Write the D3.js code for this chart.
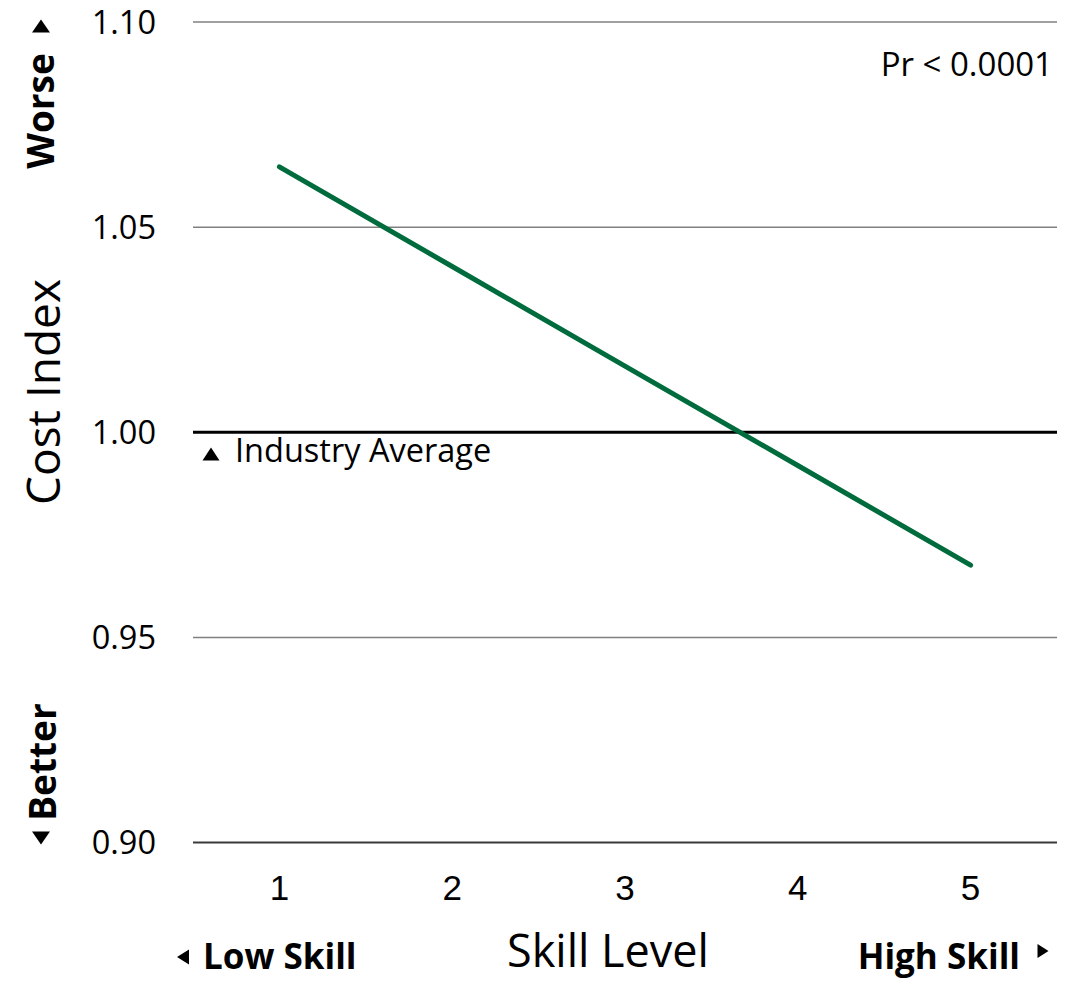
<!DOCTYPE html>
<html lang="en">
<head>
  <meta charset="UTF-8">
  <title>Cost Index by Skill Level</title>
  <script src="https://d3js.org/d3.v7.min.js"></script>
  <style>
    body { margin: 0; background: #fff; }
    svg { font-family: "Open Sans", sans-serif; }
    .grid line { stroke: #808080; stroke-width: 1.5; }
    .tick-y { font-size: 32.5px; fill: #000; }
    .tick-x { font-family: "Liberation Sans", Arial, sans-serif; font-size: 35px; fill: #000; }
  </style>
</head>
<body>
  <svg id="chart" width="1084" height="981"></svg>

  <script>
    // Data
    const skillLevels = ["1", "2", "3", "4", "5"];
    const costIndex = [1.0647, 1.0404, 1.0161, 0.9919, 0.9676];
    const yTicks = [0.90, 0.95, 1.00, 1.05, 1.10];
    const industryAverage = 1.00;

    const svg = d3.select("#chart");
    const plot = { left: 193, right: 1057, top: 22, bottom: 842.5 };

    const x = d3.scaleBand()
      .domain(skillLevels)
      .range([plot.left, plot.right]);

    const y = d3.scaleLinear()
      .domain([0.90, 1.10])
      .range([plot.bottom, plot.top]);

    // gridlines
    svg.append("g").attr("class", "grid")
      .selectAll("line")
      .data(yTicks.filter(t => t !== industryAverage && t !== 0.90))
      .join("line")
      .attr("x1", plot.left).attr("x2", plot.right)
      .attr("y1", d => y(d)).attr("y2", d => y(d));

    // bottom axis line
    svg.append("line")
      .attr("x1", plot.left).attr("x2", plot.right)
      .attr("y1", y(0.90)).attr("y2", y(0.90))
      .attr("stroke", "#3a3a3a").attr("stroke-width", 2);

    // industry average line
    svg.append("line")
      .attr("x1", plot.left).attr("x2", plot.right)
      .attr("y1", y(industryAverage)).attr("y2", y(industryAverage))
      .attr("stroke", "#000").attr("stroke-width", 3);

    // y tick labels
    svg.append("g")
      .selectAll("text")
      .data(yTicks)
      .join("text")
      .attr("class", "tick-y")
      .attr("x", 156)
      .attr("y", d => y(d))
      .attr("dy", "0.36em")
      .attr("text-anchor", "end")
      .text(d => d.toFixed(2));

    // x tick labels
    svg.append("g")
      .selectAll("text")
      .data(skillLevels)
      .join("text")
      .attr("class", "tick-x")
      .attr("x", d => x(d) + x.bandwidth() / 2)
      .attr("y", 900)
      .attr("text-anchor", "middle")
      .text(d => d);

    // trend line
    const line = d3.line()
      .x((d, i) => x(skillLevels[i]) + x.bandwidth() / 2)
      .y(d => y(d));

    svg.append("path")
      .datum(costIndex)
      .attr("d", line)
      .attr("fill", "none")
      .attr("stroke", "#006B3C")
      .attr("stroke-width", 5)
      .attr("stroke-linecap", "round");

    // annotations
    svg.append("text")
      .attr("x", 1053).attr("y", 76)
      .attr("text-anchor", "end")
      .attr("font-size", 33)
      .text("Pr < 0.0001");

    svg.append("text")
      .attr("x", 235).attr("y", 462)
      .attr("font-size", 32.5)
      .text("Industry Average");

    const tri = (cx, cy, w, h, dir) => {
      let pts;
      if (dir === "up") pts = [[cx - w / 2, cy + h / 2], [cx + w / 2, cy + h / 2], [cx, cy - h / 2]];
      if (dir === "down") pts = [[cx - w / 2, cy - h / 2], [cx + w / 2, cy - h / 2], [cx, cy + h / 2]];
      if (dir === "left") pts = [[cx + w / 2, cy - h / 2], [cx + w / 2, cy + h / 2], [cx - w / 2, cy]];
      if (dir === "right") pts = [[cx - w / 2, cy - h / 2], [cx - w / 2, cy + h / 2], [cx + w / 2, cy]];
      svg.append("path").attr("d", "M" + pts.join("L") + "Z").attr("fill", "#000");
    };

    tri(211, 454, 17, 13, "up");

    // axis titles
    svg.append("text")
      .attr("transform", "translate(60,392) rotate(-90)")
      .attr("text-anchor", "middle")
      .attr("font-size", 46)
      .text("Cost Index");

    svg.append("text")
      .attr("x", 608).attr("y", 967)
      .attr("text-anchor", "middle")
      .attr("font-size", 45)
      .text("Skill Level");

    // direction labels
    svg.append("text")
      .attr("transform", "translate(54,111) rotate(-90)")
      .attr("text-anchor", "middle")
      .attr("font-size", 37).attr("font-weight", "bold")
      .text("Worse");
    tri(41, 26, 18, 13, "up");

    svg.append("text")
      .attr("transform", "translate(56,762) rotate(-90)")
      .attr("text-anchor", "middle")
      .attr("font-size", 37).attr("font-weight", "bold")
      .text("Better");
    tri(41, 838, 18, 13, "down");

    svg.append("text")
      .attr("x", 203).attr("y", 969)
      .attr("font-size", 35).attr("font-weight", "bold")
      .text("Low Skill");
    tri(183, 957, 12, 15, "left");

    svg.append("text")
      .attr("x", 1020).attr("y", 969)
      .attr("text-anchor", "end")
      .attr("font-size", 35).attr("font-weight", "bold")
      .text("High Skill");
    tri(1043, 951, 11, 14, "right");
  </script>
</body>
</html>
